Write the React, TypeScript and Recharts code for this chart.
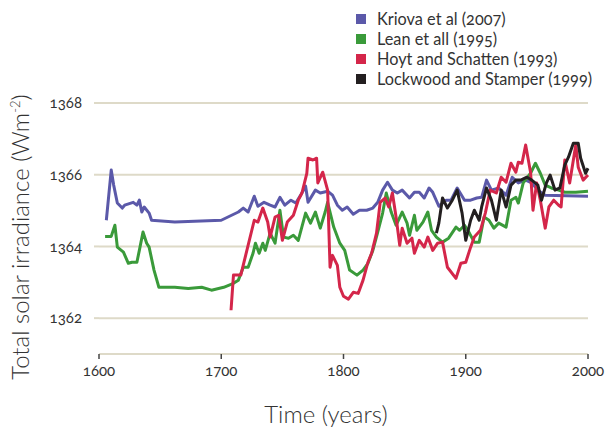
import React from "react";
import { LineChart, Line, XAxis, YAxis, CartesianGrid, Legend } from "recharts";

const xTicks = [1600, 1700, 1800, 1900, 2000];
const yTicks = [1362, 1364, 1366, 1368];

const seriesNames = [
  "Kriova et al (2007)",
  "Lean et all (1995)",
  "Hoyt and Schatten (1993)",
  "Lockwood and Stamper (1999)",
];
const seriesColors = ["#5b59a9", "#3a9a3a", "#d4264a", "#231f20"];

const kriova: [number, number][] = [
  [1606, 1364.73], [1610, 1366.13], [1612, 1365.71], [1615, 1365.21], [1619, 1365.07], [1621, 1365.15],
  [1628, 1365.23], [1631, 1365.15], [1633, 1365.29], [1635, 1364.96], [1637, 1365.1], [1641, 1364.93],
  [1643, 1364.73], [1662, 1364.68], [1700, 1364.73], [1714, 1364.96], [1718, 1365.07], [1722, 1364.96],
  [1727, 1365.4], [1730, 1365.12], [1735, 1365.23], [1740, 1365.15], [1744, 1365.1], [1748, 1365.37],
  [1752, 1365.15], [1757, 1365.29], [1761, 1365.21], [1765, 1365.43], [1769, 1365.68], [1771, 1365.23],
  [1777, 1365.57], [1781, 1365.49], [1787, 1365.54], [1791, 1365.43], [1795, 1365.15], [1799, 1365.01],
  [1803, 1365.1], [1808, 1364.9], [1813, 1365.01], [1819, 1365.01], [1824, 1365.07], [1828, 1365.23],
  [1832, 1365.57], [1836, 1365.79], [1840, 1365.57], [1844, 1365.49], [1848, 1365.57], [1854, 1365.35],
  [1858, 1365.51], [1862, 1365.51], [1866, 1365.35], [1870, 1365.63], [1873, 1365.51], [1878, 1365.12],
  [1884, 1365.29], [1888, 1365.29], [1893, 1365.63], [1899, 1365.29], [1904, 1365.29], [1909, 1365.35],
  [1913, 1365.37], [1917, 1365.85], [1921, 1365.57], [1927, 1365.63], [1933, 1365.43], [1938, 1365.93],
  [1943, 1365.77], [1949, 1365.85], [1954, 1365.77], [1959, 1365.57], [1965, 1365.43], [2000, 1365.4],
];

const lean: [number, number][] = [
  [1605, 1364.28], [1610, 1364.28], [1613, 1364.59], [1615, 1363.98], [1620, 1363.84], [1624, 1363.53],
  [1627, 1363.56], [1631, 1363.56], [1633, 1363.89], [1636, 1364.4], [1639, 1364.09], [1641, 1363.98],
  [1645, 1363.34], [1649, 1362.86], [1662, 1362.86], [1673, 1362.83], [1684, 1362.86], [1692, 1362.78],
  [1702, 1362.86], [1710, 1362.97], [1714, 1363.06], [1718, 1363.42], [1722, 1363.42], [1726, 1363.81],
  [1728, 1364.09], [1731, 1363.81], [1734, 1364.09], [1736, 1363.89], [1740, 1364.37], [1744, 1364.09],
  [1748, 1365.01], [1751, 1364.26], [1755, 1364.23], [1759, 1364.31], [1763, 1364.17], [1769, 1364.93],
  [1773, 1364.65], [1777, 1364.96], [1781, 1364.51], [1785, 1364.96], [1787, 1365.23], [1792, 1364.54],
  [1797, 1364.09], [1801, 1363.89], [1805, 1363.34], [1811, 1363.2], [1816, 1363.34], [1820, 1363.53],
  [1824, 1363.89], [1828, 1364.4], [1832, 1364.93], [1835, 1365.49], [1839, 1364.96], [1843, 1364.59],
  [1848, 1364.96], [1852, 1364.65], [1854, 1364.31], [1858, 1364.87], [1860, 1364.45], [1865, 1364.68],
  [1869, 1364.96], [1872, 1364.45], [1876, 1364.26], [1881, 1364.12], [1886, 1364.23], [1892, 1364.54],
  [1895, 1364.45], [1899, 1364.59], [1903, 1364.37], [1907, 1364.12], [1911, 1364.12], [1915, 1364.82],
  [1919, 1364.73], [1923, 1364.51], [1927, 1364.65], [1933, 1364.54], [1937, 1365.29], [1941, 1365.37],
  [1943, 1365.21], [1947, 1365.77], [1953, 1366.04], [1957, 1366.32], [1961, 1366.04], [1965, 1365.71],
  [1970, 1365.63], [1976, 1365.57], [1981, 1365.51], [1990, 1365.51], [2000, 1365.54],
];

const hoyt: [number, number][] = [
  [1708, 1362.22], [1710, 1363.2], [1716, 1363.2], [1727, 1364.73], [1730, 1364.68], [1734, 1365.07],
  [1738, 1364.68], [1740, 1364.26], [1744, 1364.82], [1747, 1364.87], [1750, 1364.17], [1754, 1364.68],
  [1759, 1364.87], [1763, 1365.29], [1766, 1365.49], [1770, 1366.04], [1771, 1366.46], [1775, 1366.41],
  [1778, 1366.46], [1779, 1365.77], [1783, 1366.07], [1787, 1365.57], [1789, 1363.42], [1791, 1363.75],
  [1795, 1363.47], [1797, 1362.86], [1800, 1362.61], [1804, 1362.53], [1808, 1362.72], [1812, 1362.69],
  [1816, 1363.06], [1820, 1363.56], [1823, 1363.81], [1827, 1364.37], [1830, 1365.23], [1834, 1365.35],
  [1837, 1365.1], [1840, 1365.49], [1843, 1364.82], [1846, 1364.03], [1848, 1364.51], [1852, 1364.09],
  [1856, 1364.23], [1858, 1363.81], [1862, 1364.17], [1866, 1363.98], [1869, 1364.26], [1873, 1363.89],
  [1877, 1364.09], [1881, 1364.12], [1885, 1363.42], [1892, 1363.11], [1896, 1363.53], [1900, 1363.56],
  [1904, 1363.98], [1907, 1364.26], [1912, 1364.45], [1916, 1364.93], [1920, 1365.57], [1925, 1365.49],
  [1929, 1365.93], [1933, 1365.79], [1937, 1366.32], [1941, 1366.07], [1943, 1366.35], [1946, 1366.32],
  [1949, 1366.83], [1953, 1366.07], [1955, 1365.01], [1958, 1365.77], [1961, 1365.29], [1965, 1364.51],
  [1968, 1365.1], [1972, 1365.29], [1976, 1365.15], [1978, 1365.1], [1981, 1366.41], [1985, 1365.77],
  [1990, 1366.83], [1992, 1366.21], [1996, 1365.85], [2000, 1365.99],
];

const lockwood: [number, number][] = [
  [1876, 1364.37], [1878, 1364.65], [1881, 1365.35], [1885, 1365.07], [1889, 1365.29], [1893, 1365.57],
  [1897, 1364.93], [1900, 1364.17], [1904, 1364.73], [1907, 1365.01], [1911, 1364.73], [1913, 1365.1],
  [1917, 1365.63], [1921, 1365.29], [1925, 1364.73], [1929, 1365.57], [1933, 1365.1], [1937, 1365.71],
  [1941, 1365.85], [1945, 1365.85], [1950, 1365.93], [1954, 1365.85], [1959, 1365.71], [1962, 1365.29],
  [1966, 1365.77], [1969, 1365.99], [1973, 1365.57], [1977, 1365.63], [1981, 1366.27], [1984, 1366.49],
  [1988, 1366.88], [1992, 1366.88], [1994, 1366.46], [1998, 1366.04], [2000, 1366.18],
];

const allSeries = [kriova, lean, hoyt, lockwood];
const toData = (s: [number, number][]) => s.map(([year, value]) => ({ year, value }));

const FONT = "Lato, 'Open Sans', sans-serif";
const TEXT = "#333333";
const GRID = "#dedac8";

const renderLegend = () => (
  <div style={{ fontFamily: FONT, fontSize: 16.3, color: TEXT, lineHeight: "20px", fontFeatureSettings: "'onum'" }}>
    {seriesNames.map((n, i) => (
      <div key={n} style={{ display: "flex", alignItems: "center", height: 20 }}>
        <span style={{ display: "inline-block", width: 10, height: 10, background: seriesColors[i], marginRight: 11 }} />
        <span>{n}</span>
      </div>
    ))}
  </div>
);

const YTitle = () => (
  <text
    x={29}
    y={237}
    transform="rotate(-90 29 237)"
    textAnchor="middle"
    fontFamily={FONT}
    fontWeight={300}
    fontSize={24}
    fill={TEXT}
  >
    Total solar irradiance (Wm
    <tspan dy={-9} fontSize={13}>-2</tspan>
    <tspan dy={9}>)</tspan>
  </text>
);

const XTitle = () => (
  <text x={326} y={423} textAnchor="middle" fontFamily={FONT} fontWeight={300} fontSize={24} fill={TEXT}>
    Time (years)
  </text>
);

export default function App() {
  return (
    <div style={{ position: "absolute", left: 0, top: 0, width: 608, height: 430, background: "#fff" }}>
      <LineChart width={608} height={430} margin={{ top: 103, right: 20, bottom: 46, left: 0 }}>
        <CartesianGrid vertical={false} stroke={GRID} strokeWidth={2} />
        <XAxis
          type="number"
          dataKey="year"
          domain={[1600, 2000]}
          ticks={xTicks}
          axisLine={false}
          tickLine={{ stroke: "#444", strokeWidth: 1.5 }}
          tickSize={5}
          tickMargin={6}
          height={30}
          tick={{ fontFamily: FONT, fontSize: 15, fill: TEXT, style: { fontFeatureSettings: "'onum'" } }}
          label={<XTitle />}
        />
        <YAxis
          type="number"
          domain={[1361, 1368]}
          ticks={yTicks}
          axisLine={false}
          tickLine={{ stroke: GRID, strokeWidth: 2 }}
          tickSize={5}
          width={99}
          tickMargin={12}
          tick={{ fontFamily: FONT, fontSize: 15, fill: TEXT, style: { fontFeatureSettings: "'onum'" } }}
          label={<YTitle />}
        />
        <Legend
          layout="vertical"
          align="center"
          verticalAlign="middle"
          content={renderLegend}
          wrapperStyle={{ position: "absolute", top: 9, left: 356, width: 252 }}
        />
        {allSeries.map((s, i) => (
          <Line
            key={seriesNames[i]}
            data={toData(s)}
            dataKey="value"
            name={seriesNames[i]}
            stroke={seriesColors[i]}
            strokeWidth={3}
            dot={false}
            type="linear"
            isAnimationActive={false}
            strokeLinejoin="round"
          />
        ))}
      </LineChart>
    </div>
  );
}
